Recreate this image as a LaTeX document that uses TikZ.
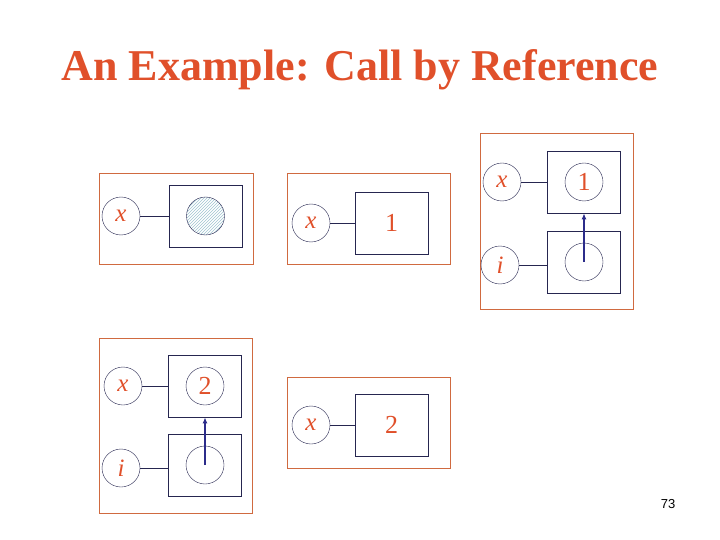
\documentclass[tikz,border=0pt]{standalone}
\usepackage{fontspec}
\setmainfont{Liberation Serif}
\newfontfamily\numfont{Liberation Sans}
\usetikzlibrary{patterns,arrows.meta}
\definecolor{ttl}{HTML}{E0502A}
\definecolor{pan}{HTML}{D06A40}
\definecolor{nav}{HTML}{262650}
\definecolor{arr}{HTML}{2C2C8A}
\definecolor{hat}{HTML}{9FC3D0}
\tikzset{
 panel/.style={draw=pan,line width=0.8pt},
 var/.style={circle,draw=nav,minimum size=38pt,inner sep=0pt,text=ttl,font=\itshape\fontsize{25}{25}\selectfont},
 cell/.style={draw=nav,line width=0.7pt,minimum width=73pt,minimum height=62pt},
 val/.style={circle,draw=nav,minimum size=38pt,inner sep=0pt,text=ttl,font=\fontsize{26}{26}\selectfont},
 lnk/.style={draw=nav,line width=0.6pt},
 ptr/.style={draw=arr,line width=1.6pt,-{Latex[length=6pt,width=5pt]}},
 num/.style={text=ttl,font=\fontsize{26}{26}\selectfont}
}
\begin{document}
\begin{tikzpicture}[x=1pt,y=-1pt]
\useasboundingbox (0,0) rectangle (720,540);
\node[font=\bfseries\fontsize{44}{44}\selectfont,text=ttl] (title) at (360,70) {An Example: Call by Reference};
% panel 1
\draw[panel] (99,173) rectangle (253,264);
\node[cell] (c1) at (205.5,216) {};
\node[var] (x1) at (121,216) {x};
\node[circle,minimum size=38pt,draw=nav,fill=hat!25,pattern color=hat,pattern=north east lines] (h1) at (c1) {};
\draw[lnk] (x1) -- (c1);
% panel 2
\draw[panel] (287,173) rectangle (450,264);
\node[cell] (c2) at (391.5,223) {};
\node[var] (x2) at (311,223) {x};
\node[num] at (c2) {1};
\draw[lnk] (x2) -- (c2);
% panel 3
\draw[panel] (480,133) rectangle (633,309);
\node[cell] (c3) at (584,182) {};
\node[var] (x3) at (502,182) {x};
\node[val] (v3) at (c3) {1};
\node[cell] (d3) at (584,262) {};
\node[var] (i3) at (500,265) {i};
\node[val] (w3) at (d3) {};
\draw[lnk] (x3) -- (c3);
\draw[lnk] (i3.east) -- (i3.east -| d3.west);
\draw[ptr] (w3.center) -- (c3.south);
% panel 4
\draw[panel] (99,338) rectangle (252,513);
\node[cell] (c4) at (205,386) {};
\node[var] (x4) at (123,386) {x};
\node[val] (v4) at (c4) {2};
\node[cell] (d4) at (205,465) {};
\node[var] (i4) at (121,468) {i};
\node[val] (w4) at (d4) {};
\draw[lnk] (x4) -- (c4);
\draw[lnk] (i4.east) -- (i4.east -| d4.west);
\draw[ptr] (w4.center) -- (c4.south);
% panel 5
\draw[panel] (287,377) rectangle (450,468);
\node[cell] (c5) at (391.5,425) {};
\node[var] (x5) at (311,425) {x};
\node[num] at (c5) {2};
\draw[lnk] (x5) -- (c5);
\node[font=\numfont\fontsize{13}{13}\selectfont] (pg) at (668,504) {73};
\end{tikzpicture}
\end{document}
